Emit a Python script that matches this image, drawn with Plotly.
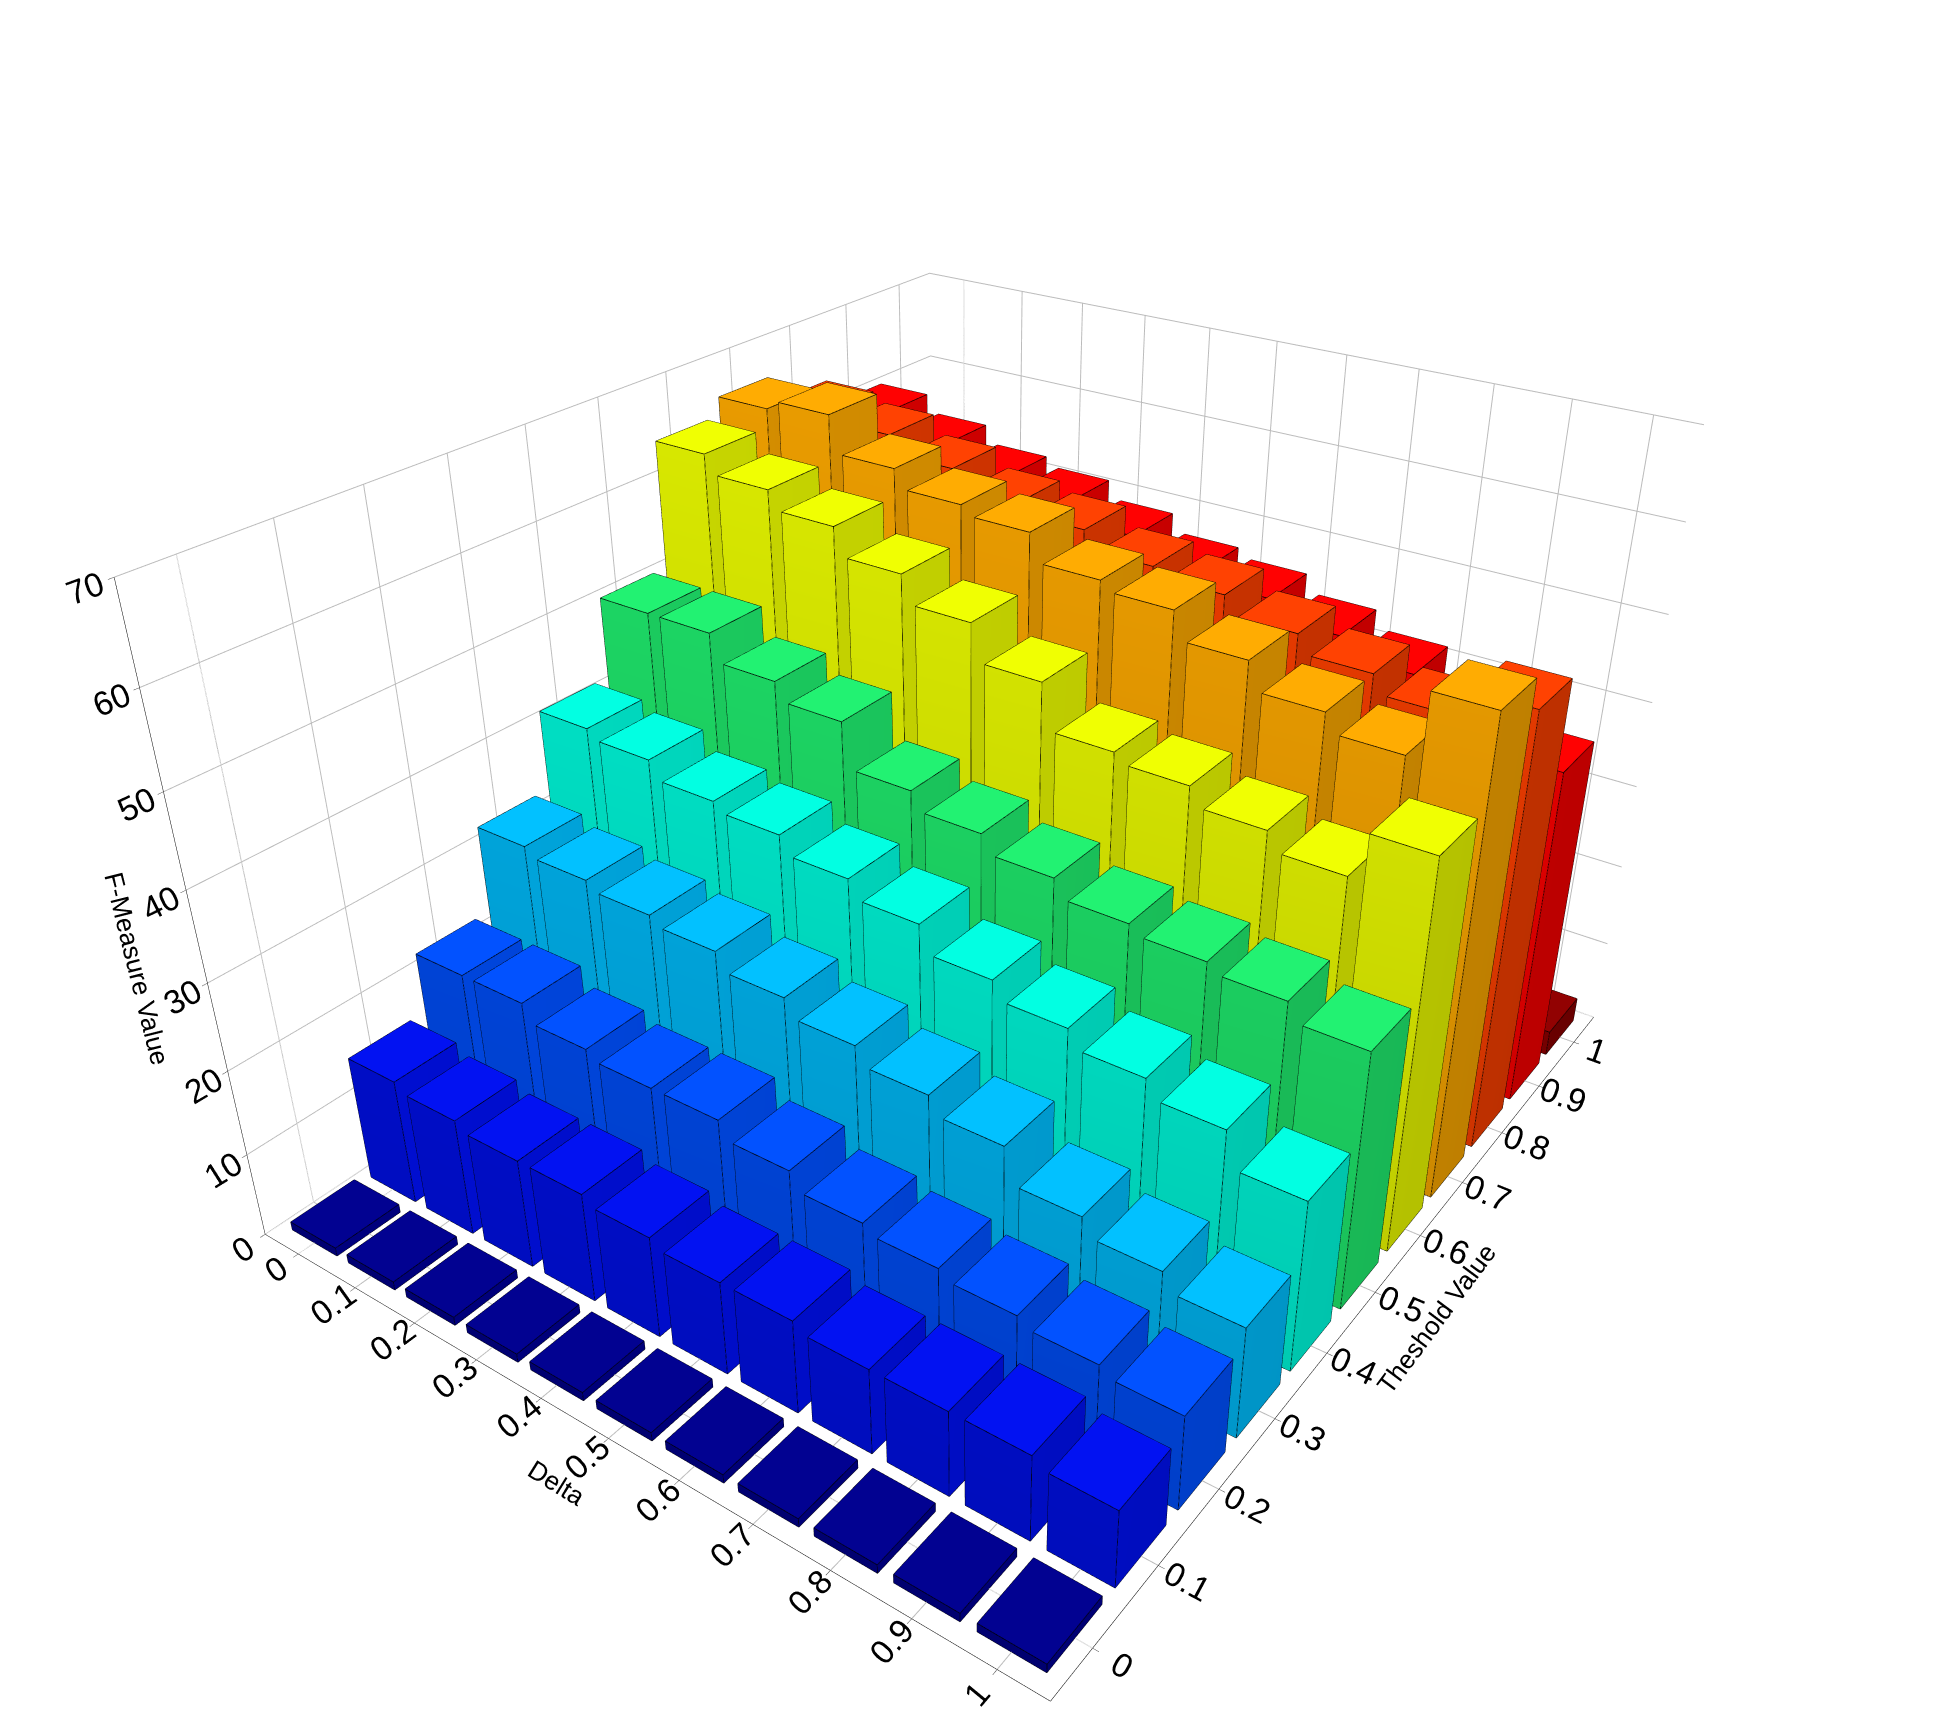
import plotly.graph_objects as go

delta = [0, 0.1, 0.2, 0.3, 0.4, 0.5, 0.6, 0.7, 0.8, 0.9, 1.0]
threshold = [0, 0.1, 0.2, 0.3, 0.4, 0.5, 0.6, 0.7, 0.8, 0.9, 1.0]
tick_labels = ["0", "0.1", "0.2", "0.3", "0.4", "0.5", "0.6", "0.7", "0.8", "0.9", "1"]
# F-measure per threshold column, listed over delta 0..1
fm_t00 = [1, 1, 1, 1, 1, 1, 1, 1, 1, 1, 1]
fm_t01 = [15, 14, 13, 13, 12, 11, 11, 10, 10, 10, 9]
fm_t02 = [22, 22, 20, 19, 19, 17, 15, 14, 13, 12, 11]
fm_t03 = [32, 31, 30, 29, 27, 25, 23, 21, 17, 15, 13]
fm_t04 = [41, 40, 38, 37, 35, 33, 30, 28, 26, 24, 20]
fm_t05 = [50, 50, 47, 45, 40, 38, 36, 34, 33, 32, 30]
fm_t06 = [64, 62, 60, 57, 54, 50, 45, 44, 42, 40, 45]
fm_t07 = [66, 67, 63, 61, 60, 57, 56, 53, 50, 48, 55]
fm_t08 = [63, 62, 60, 58, 57, 55, 54, 52, 50, 48, 51]
fm_t09 = [60, 58, 56, 55, 53, 51, 50, 48, 46, 44, 40]
fm_t10 = [3, 3, 3, 3, 3, 3, 3, 3, 3, 3, 3]
columns = [fm_t00, fm_t01, fm_t02, fm_t03, fm_t04, fm_t05, fm_t06, fm_t07, fm_t08, fm_t09, fm_t10]
colors = ["#00008F", "#0010F0", "#0050FF", "#00BFFF", "#00FFE0", "#20F070",
          "#EEFF00", "#FFAA00", "#FF4000", "#FF0000", "#900000"]

w = 0.04
fig = go.Figure()
ex, ey, ez = [], [], []
for j, t in enumerate(threshold):
    X, Y, Z, I, J, K = [], [], [], [], [], []
    for i, d in enumerate(delta):
        h = columns[j][i]
        b = len(X)
        for zz in (0, h):
            for dx, dy in ((-w, -w), (w, -w), (w, w), (-w, w)):
                X.append(d + dx); Y.append(t + dy); Z.append(zz)
        faces = [(0,1,2),(0,2,3),(4,5,6),(4,6,7),(0,1,5),(0,5,4),(1,2,6),(1,6,5),
                 (2,3,7),(2,7,6),(3,0,4),(3,4,7)]
        for a, c, e in faces:
            I.append(b+a); J.append(b+c); K.append(b+e)
        edges = [(0,1),(1,2),(2,3),(3,0),(4,5),(5,6),(6,7),(7,4),(0,4),(1,5),(2,6),(3,7)]
        for a, c in edges:
            ex += [X[b+a], X[b+c], None]; ey += [Y[b+a], Y[b+c], None]; ez += [Z[b+a], Z[b+c], None]
    fig.add_trace(go.Mesh3d(x=X, y=Y, z=Z, i=I, j=J, k=K, color=colors[j], flatshading=True,
                            lighting=dict(ambient=0.7, diffuse=0.5, specular=0.05),
                            lightposition=dict(x=1000, y=-2000, z=3000), showscale=False, hoverinfo="skip"))
fig.add_trace(go.Scatter3d(x=ex, y=ey, z=ez, mode="lines", line=dict(color="black", width=1.5),
                           hoverinfo="skip", showlegend=False))

tf = dict(family="Liberation Sans", size=26, color="black")
ax = dict(showbackground=False, gridcolor="#bbbbbb", showline=True, linecolor="black",
          ticks="outside", tickfont=dict(family="Liberation Sans", size=20, color="black"))
fig.update_layout(
    width=1938, height=1733, paper_bgcolor="white", showlegend=False,
    margin=dict(l=0, r=0, t=0, b=0),
    scene=dict(
        xaxis=dict(ax, title=dict(text="Delta", font=tf), tickvals=delta, ticktext=tick_labels, range=[-0.06, 1.06]),
        yaxis=dict(ax, title=dict(text="Theshold Value", font=tf), tickvals=threshold, ticktext=tick_labels, range=[-0.06, 1.06]),
        zaxis=dict(ax, title=dict(text="F-Measure Value", font=tf), tickvals=[0,10,20,30,40,50,60,70], range=[0, 70]),
        aspectmode="manual", aspectratio=dict(x=1, y=1.2, z=0.75),
        camera=dict(eye=dict(x=1.1, y=-1.55, z=1.1), center=dict(x=0, y=0, z=-0.05)),
    ),
)
fig.write_html("out.html")
